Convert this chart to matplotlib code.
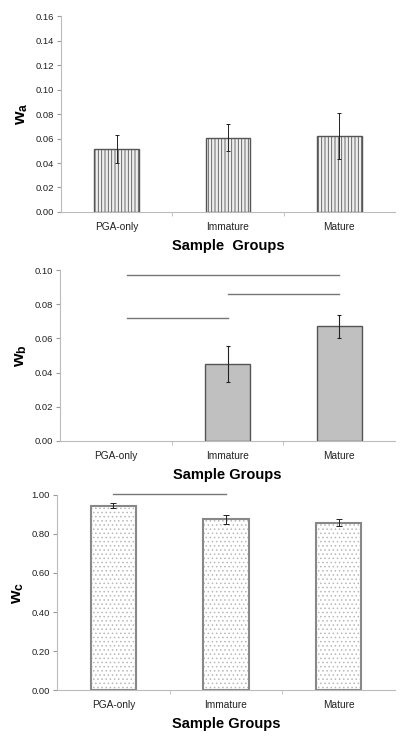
import matplotlib
matplotlib.use("Agg")
import matplotlib.pyplot as plt

plt.rcParams["font.family"] = ["Liberation Sans", "DejaVu Sans"]
plt.rcParams["mathtext.fontset"] = "custom"
plt.rcParams["mathtext.bf"] = "Liberation Sans:bold"
plt.rcParams["mathtext.rm"] = "Liberation Sans"

groups = ["PGA-only", "Immature", "Mature"]

wa = [0.0515, 0.0605, 0.062]
wa_err = [0.0118, 0.011, 0.019]

wb = [0.0, 0.0452, 0.0672]
wb_err = [0.0, 0.0105, 0.0068]

wc = [0.942, 0.875, 0.857]
wc_err = [0.013, 0.023, 0.017]

# significance bars (x start, x end, y)
wb_sig = [(0.1, 2.0, 0.097), (1.0, 2.0, 0.086), (0.1, 1.0, 0.072)]
wc_sig = [(0.0, 1.0, 1.002)]

fig = plt.figure(figsize=(4, 7.36), dpi=100)

ax1 = fig.add_axes([0.1525, 0.712, 0.835, 0.266])
ax2 = fig.add_axes([0.15, 0.401, 0.838, 0.232])
ax3 = fig.add_axes([0.1425, 0.062, 0.845, 0.266])

x = range(len(groups))
bw = 0.4


def style(ax, ymax, step, fmt, ylabel, xlabel):
    ax.set_xlim(-0.5, 2.5)
    ax.set_ylim(0, ymax)
    ticks = [i * step for i in range(int(round(ymax / step)) + 1)]
    ax.set_yticks(ticks)
    ax.set_yticklabels([fmt.format(t) for t in ticks], fontsize=6.8, color="#222222")
    ax.set_xticks([0, 1, 2])
    ax.set_xticklabels(groups, fontsize=7.3, color="#222222")
    ax.set_xticks([0.5, 1.5], minor=True)
    ax.tick_params(axis="x", which="major", length=0, pad=7)
    ax.tick_params(axis="x", which="minor", length=3, color="#bbbbbb", direction="out")
    ax.tick_params(axis="y", length=3, color="#999999", width=0.8, pad=2)
    for s in ["top", "right"]:
        ax.spines[s].set_visible(False)
    ax.spines["left"].set_color("#bbbbbb")
    ax.spines["bottom"].set_color("#bbbbbb")
    ax.set_ylabel(ylabel, fontsize=12.5, labelpad=4)
    ax.set_xlabel(xlabel, fontsize=10.5, fontweight="bold", labelpad=5)


# panel a: vertical line hatch
plt.rcParams["hatch.linewidth"] = 0.6
ax1.bar(x, wa, bw, color="#eeeeee", edgecolor="#555555", hatch="|||||", linewidth=0)
ax1.bar(x, wa, bw, color="none", edgecolor="#555555", linewidth=1.0)
ax1.errorbar(x, wa, yerr=wa_err, fmt="none", ecolor="#222222", elinewidth=0.7, capsize=1.5, capthick=0.7)
style(ax1, 0.16, 0.02, "{:.2f}", r"$\mathbf{w_a}$", "Sample  Groups")

# panel b: grey bars
ax2.bar(x[1:], wb[1:], bw, color="#c0c0c0", edgecolor="#555555", linewidth=1.0)
ax2.errorbar(x[1:], wb[1:], yerr=wb_err[1:], fmt="none", ecolor="#222222", elinewidth=0.8, capsize=1.5, capthick=0.8)
for x0, x1, y in wb_sig:
    ax2.plot([x0, x1], [y, y], color="#777777", lw=1.0, clip_on=False)
style(ax2, 0.10, 0.02, "{:.2f}", r"$\mathbf{w_b}$", "Sample Groups")

# panel c: dotted bars
ax3.bar(x, wc, bw, color="white", edgecolor="#b8b8b8", hatch="....", linewidth=0)
ax3.bar(x, wc, bw, color="none", edgecolor="#888888", linewidth=1.5)
ax3.errorbar(x, wc, yerr=wc_err, fmt="none", ecolor="#222222", elinewidth=0.7, capsize=2, capthick=0.7)
for x0, x1, y in wc_sig:
    ax3.plot([x0, x1], [y, y], color="#777777", lw=1.0, clip_on=False)
style(ax3, 1.0, 0.2, "{:.2f}", r"$\mathbf{w_c}$", "Sample Groups")

fig.savefig("out.png", dpi=100)
